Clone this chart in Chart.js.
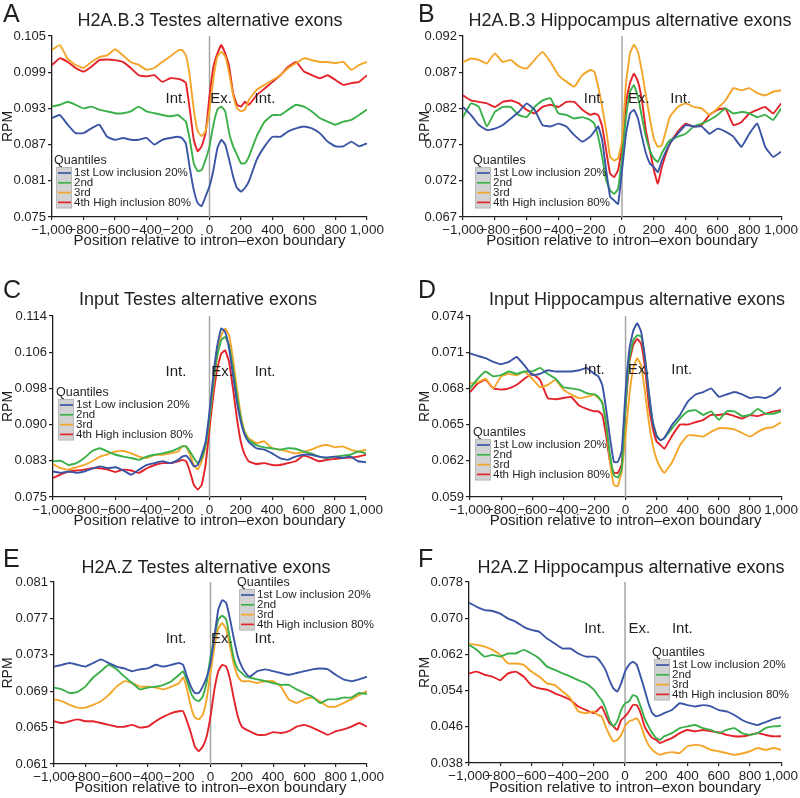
<!DOCTYPE html>
<html>
<head>
<meta charset="utf-8">
<script src="https://cdn.jsdelivr.net/npm/chart.js@4.4.1/dist/chart.umd.min.js"></script>
<style>
  body { margin: 0; background: #fff; }
  canvas { position: absolute; }
</style>
</head>
<body>
<canvas id="panel_a" width="400" height="265" style="left:0;top:0"></canvas>
<canvas id="panel_b" width="400" height="265" style="left:400px;top:0"></canvas>
<canvas id="panel_c" width="400" height="265" style="left:0;top:265px"></canvas>
<canvas id="panel_d" width="400" height="265" style="left:400px;top:265px"></canvas>
<canvas id="panel_e" width="400" height="268" style="left:0;top:530px"></canvas>
<canvas id="panel_f" width="400" height="268" style="left:400px;top:530px"></canvas>
<script>
// Shared x positions (bp relative to intron-exon boundary)
const positions = [-1000,-950,-900,-850,-800,-750,-700,-650,-600,-550,-500,-450,-400,-350,-300,-250,-200,
  -175,-150,-125,-100,-75,-50,-25,0,25,50,75,100,125,150,175,200,225,250,
  300,350,400,450,500,550,600,650,700,750,800,850,900,950,1000];
const xTickLabels = ['\u22121,000','\u2212800','\u2212600','\u2212400','\u2212200','0','200','400','600','800','1,000'];
const quantileLabels = ['1st Low inclusion 20%', '2nd', '3rd', '4th High inclusion 80%'];
const regionLabels = ['Int.', 'Ex.', 'Int.'];

// A - H2A.B.3 Testes
const a_yTicks = ['0.075','0.081','0.087','0.093','0.099','0.105'];
const a_q1 = [0.0914,0.0919,0.0903,0.0889,0.0889,0.0897,0.0903,0.0883,0.0878,0.0881,0.0878,0.0878,0.0881,0.0870,0.0878,0.0881,0.0883,0.0881,0.0872,0.0831,0.0795,0.0773,0.0768,0.0784,0.0801,0.0828,0.0864,0.0878,0.0870,0.0845,0.0817,0.0798,0.0792,0.0798,0.0809,0.0845,0.0867,0.0883,0.0883,0.0892,0.0897,0.0900,0.0897,0.0889,0.0875,0.0867,0.0867,0.0875,0.0867,0.0872];
const a_q2 = [0.0933,0.0936,0.0941,0.0936,0.0930,0.0933,0.0928,0.0925,0.0922,0.0922,0.0925,0.0933,0.0925,0.0922,0.0919,0.0917,0.0919,0.0914,0.0908,0.0878,0.0839,0.0826,0.0828,0.0845,0.0867,0.0903,0.0928,0.0933,0.0925,0.0889,0.0867,0.0853,0.0839,0.0839,0.0850,0.0884,0.0908,0.0919,0.0919,0.0928,0.0936,0.0933,0.0925,0.0914,0.0908,0.0903,0.0908,0.0911,0.0919,0.0928];
const a_q3 = [0.1027,0.1035,0.1012,0.1002,0.0997,0.1007,0.1015,0.1018,0.1028,0.1018,0.1007,0.1002,0.0994,0.0997,0.1007,0.1016,0.1026,0.1027,0.1018,0.0983,0.0928,0.0892,0.0884,0.0892,0.0928,0.0980,0.1016,0.1024,0.1016,0.0988,0.0952,0.0930,0.0925,0.0928,0.0944,0.0961,0.0969,0.0977,0.0985,0.0997,0.1005,0.1013,0.1010,0.1007,0.1007,0.1005,0.1007,0.0994,0.1002,0.1007];
const a_q4 = [0.1002,0.1013,0.1007,0.0997,0.0991,0.0999,0.1010,0.1011,0.1010,0.1007,0.0997,0.0985,0.0983,0.0985,0.0974,0.0980,0.0979,0.0977,0.0972,0.0928,0.0878,0.0859,0.0867,0.0889,0.0950,0.0999,0.1021,0.1035,0.1021,0.0999,0.0955,0.0936,0.0933,0.0941,0.0936,0.0952,0.0963,0.0974,0.0985,0.0999,0.1007,0.0991,0.0985,0.0980,0.0985,0.0977,0.0969,0.0972,0.0974,0.0985];

// B - H2A.B.3 Hippocampus
const b_yTicks = ['0.067','0.072','0.077','0.082','0.087','0.092'];
const b_q1 = [0.0822,0.0811,0.0797,0.0790,0.0792,0.0797,0.0806,0.0815,0.0827,0.0818,0.0797,0.0795,0.0799,0.0795,0.0783,0.0774,0.0781,0.0788,0.0795,0.0776,0.0735,0.0698,0.0693,0.0688,0.0735,0.0785,0.0813,0.0818,0.0806,0.0781,0.0758,0.0744,0.0739,0.0732,0.0748,0.0771,0.0785,0.0797,0.0795,0.0795,0.0785,0.0792,0.0788,0.0781,0.0767,0.0785,0.0799,0.0767,0.0753,0.0760];
const b_q2 = [0.0808,0.0827,0.0822,0.0795,0.0815,0.0822,0.0822,0.0811,0.0808,0.0822,0.0831,0.0834,0.0813,0.0811,0.0806,0.0808,0.0804,0.0799,0.0781,0.0753,0.0721,0.0707,0.0702,0.0709,0.0753,0.0808,0.0843,0.0852,0.0836,0.0808,0.0781,0.0762,0.0751,0.0746,0.0758,0.0776,0.0781,0.0785,0.0795,0.0799,0.0804,0.0811,0.0820,0.0813,0.0815,0.0813,0.0808,0.0811,0.0804,0.0820];
const b_q3 = [0.0884,0.0889,0.0887,0.0882,0.0896,0.0884,0.0887,0.0878,0.0875,0.0887,0.0898,0.0884,0.0866,0.0857,0.0850,0.0866,0.0873,0.0871,0.0850,0.0822,0.0790,0.0753,0.0748,0.0751,0.0776,0.0855,0.0896,0.0908,0.0898,0.0871,0.0838,0.0806,0.0778,0.0767,0.0769,0.0808,0.0822,0.0827,0.0822,0.0820,0.0811,0.0820,0.0831,0.0848,0.0845,0.0848,0.0841,0.0838,0.0843,0.0845];
const b_q4 = [0.0838,0.0831,0.0829,0.0827,0.0822,0.0829,0.0831,0.0827,0.0818,0.0813,0.0822,0.0825,0.0822,0.0829,0.0829,0.0818,0.0811,0.0813,0.0811,0.0795,0.0762,0.0730,0.0725,0.0735,0.0767,0.0827,0.0855,0.0868,0.0857,0.0831,0.0790,0.0762,0.0735,0.0716,0.0739,0.0771,0.0788,0.0799,0.0795,0.0797,0.0811,0.0818,0.0820,0.0797,0.0801,0.0813,0.0818,0.0822,0.0813,0.0827];

// C - Input Testes
const c_yTicks = ['0.075','0.083','0.090','0.098','0.106','0.114'];
const c_q1 = [0.0805,0.0802,0.0805,0.0802,0.0805,0.0811,0.0816,0.0812,0.0814,0.0807,0.0798,0.0809,0.0819,0.0823,0.0827,0.0823,0.0830,0.0837,0.0839,0.0830,0.0816,0.0819,0.0841,0.0869,0.0934,0.1013,0.1077,0.1113,0.1106,0.1070,0.1013,0.0955,0.0912,0.0884,0.0869,0.0855,0.0852,0.0844,0.0834,0.0830,0.0837,0.0841,0.0841,0.0837,0.0835,0.0837,0.0834,0.0837,0.0827,0.0825];
const c_q2 = [0.0827,0.0828,0.0819,0.0823,0.0834,0.0849,0.0855,0.0848,0.0841,0.0837,0.0834,0.0830,0.0837,0.0841,0.0844,0.0848,0.0855,0.0859,0.0859,0.0848,0.0834,0.0823,0.0834,0.0862,0.0920,0.0998,0.1056,0.1088,0.1095,0.1077,0.1027,0.0970,0.0920,0.0887,0.0873,0.0862,0.0857,0.0855,0.0852,0.0855,0.0854,0.0848,0.0844,0.0837,0.0834,0.0837,0.0839,0.0841,0.0848,0.0844];
const c_q3 = [0.0821,0.0812,0.0809,0.0814,0.0819,0.0827,0.0837,0.0842,0.0848,0.0849,0.0844,0.0837,0.0834,0.0841,0.0841,0.0844,0.0848,0.0859,0.0859,0.0841,0.0819,0.0809,0.0827,0.0859,0.0920,0.0991,0.1056,0.1098,0.1113,0.1098,0.1048,0.0984,0.0927,0.0891,0.0877,0.0866,0.0870,0.0855,0.0852,0.0848,0.0844,0.0847,0.0852,0.0859,0.0862,0.0857,0.0859,0.0852,0.0848,0.0852];
const c_q4 = [0.0791,0.0799,0.0805,0.0807,0.0809,0.0812,0.0812,0.0809,0.0804,0.0809,0.0807,0.0802,0.0812,0.0819,0.0823,0.0823,0.0827,0.0830,0.0827,0.0805,0.0776,0.0766,0.0776,0.0819,0.0898,0.0970,0.1027,0.1059,0.1066,0.1041,0.0984,0.0920,0.0869,0.0841,0.0827,0.0821,0.0823,0.0819,0.0819,0.0823,0.0827,0.0839,0.0834,0.0827,0.0830,0.0832,0.0834,0.0835,0.0837,0.0841];

// D - Input Hippocampus
const d_yTicks = ['0.059','0.062','0.065','0.068','0.071','0.074'];
const d_q1 = [0.0709,0.0707,0.0705,0.0702,0.0700,0.0702,0.0706,0.0699,0.0691,0.0692,0.0695,0.0694,0.0694,0.0694,0.0695,0.0697,0.0692,0.0690,0.0683,0.0663,0.0639,0.0619,0.0619,0.0628,0.0677,0.0713,0.0728,0.0734,0.0727,0.0705,0.0677,0.0652,0.0640,0.0637,0.0639,0.0650,0.0658,0.0669,0.0675,0.0677,0.0680,0.0673,0.0675,0.0677,0.0675,0.0672,0.0673,0.0672,0.0675,0.0681];
const d_q2 = [0.0680,0.0688,0.0694,0.0690,0.0691,0.0694,0.0692,0.0694,0.0694,0.0697,0.0692,0.0688,0.0681,0.0680,0.0679,0.0676,0.0675,0.0673,0.0668,0.0650,0.0625,0.0608,0.0606,0.0613,0.0666,0.0705,0.0720,0.0724,0.0723,0.0705,0.0675,0.0652,0.0641,0.0637,0.0639,0.0647,0.0655,0.0661,0.0662,0.0658,0.0661,0.0654,0.0661,0.0661,0.0657,0.0658,0.0663,0.0659,0.0659,0.0661];
const d_q3 = [0.0684,0.0685,0.0688,0.0680,0.0690,0.0692,0.0691,0.0694,0.0688,0.0681,0.0683,0.0687,0.0679,0.0675,0.0672,0.0673,0.0675,0.0672,0.0669,0.0652,0.0619,0.0600,0.0599,0.0611,0.0641,0.0675,0.0697,0.0705,0.0699,0.0677,0.0652,0.0633,0.0621,0.0614,0.0610,0.0619,0.0633,0.0641,0.0641,0.0640,0.0644,0.0647,0.0647,0.0646,0.0643,0.0640,0.0644,0.0647,0.0648,0.0652];
const d_q4 = [0.0677,0.0684,0.0687,0.0680,0.0679,0.0680,0.0683,0.0688,0.0692,0.0687,0.0672,0.0671,0.0672,0.0673,0.0666,0.0663,0.0661,0.0661,0.0658,0.0641,0.0619,0.0610,0.0610,0.0617,0.0664,0.0702,0.0716,0.0721,0.0717,0.0697,0.0666,0.0647,0.0636,0.0633,0.0630,0.0641,0.0650,0.0650,0.0652,0.0654,0.0658,0.0658,0.0659,0.0657,0.0655,0.0658,0.0657,0.0659,0.0661,0.0662];

// E - H2A.Z Testes
const e_yTicks = ['0.061','0.065','0.069','0.073','0.077','0.081'];
const e_q1 = [0.0717,0.0719,0.0721,0.0719,0.0717,0.0721,0.0725,0.0721,0.0717,0.0715,0.0712,0.0714,0.0715,0.0719,0.0717,0.0719,0.0721,0.0719,0.0706,0.0695,0.0688,0.0688,0.0695,0.0705,0.0721,0.0750,0.0780,0.0790,0.0787,0.0769,0.0747,0.0728,0.0717,0.0710,0.0706,0.0712,0.0714,0.0712,0.0710,0.0708,0.0710,0.0712,0.0714,0.0715,0.0714,0.0708,0.0703,0.0701,0.0703,0.0706];
const e_q2 = [0.0694,0.0692,0.0688,0.0689,0.0695,0.0705,0.0712,0.0719,0.0714,0.0706,0.0699,0.0692,0.0694,0.0695,0.0697,0.0701,0.0708,0.0712,0.0701,0.0688,0.0681,0.0679,0.0684,0.0699,0.0728,0.0750,0.0769,0.0773,0.0769,0.0747,0.0725,0.0714,0.0710,0.0706,0.0705,0.0703,0.0701,0.0699,0.0697,0.0697,0.0692,0.0688,0.0684,0.0677,0.0681,0.0681,0.0683,0.0683,0.0688,0.0687];
const e_q3 = [0.0681,0.0679,0.0675,0.0672,0.0672,0.0675,0.0679,0.0686,0.0695,0.0701,0.0699,0.0695,0.0695,0.0694,0.0692,0.0695,0.0699,0.0705,0.0692,0.0673,0.0661,0.0659,0.0664,0.0681,0.0710,0.0739,0.0759,0.0765,0.0758,0.0739,0.0719,0.0706,0.0701,0.0701,0.0701,0.0699,0.0701,0.0701,0.0695,0.0681,0.0677,0.0681,0.0683,0.0679,0.0673,0.0673,0.0677,0.0681,0.0686,0.0690];
const e_q4 = [0.0657,0.0655,0.0657,0.0659,0.0657,0.0657,0.0655,0.0653,0.0651,0.0651,0.0653,0.0650,0.0651,0.0657,0.0662,0.0666,0.0668,0.0668,0.0657,0.0644,0.0629,0.0624,0.0629,0.0640,0.0662,0.0692,0.0712,0.0719,0.0717,0.0703,0.0681,0.0662,0.0651,0.0648,0.0646,0.0642,0.0642,0.0645,0.0644,0.0646,0.0651,0.0653,0.0650,0.0646,0.0642,0.0646,0.0648,0.0651,0.0655,0.0651];

// F - H2A.Z Hippocampus
const f_yTicks = ['0.038','0.046','0.054','0.062','0.070','0.078'];
const f_q1 = [0.0734,0.0725,0.0718,0.0716,0.0710,0.0699,0.0692,0.0681,0.0674,0.0670,0.0655,0.0644,0.0633,0.0633,0.0622,0.0615,0.0615,0.0611,0.0600,0.0586,0.0563,0.0545,0.0538,0.0556,0.0582,0.0597,0.0604,0.0597,0.0571,0.0542,0.0512,0.0490,0.0483,0.0486,0.0490,0.0497,0.0512,0.0508,0.0505,0.0508,0.0505,0.0497,0.0494,0.0486,0.0475,0.0468,0.0464,0.0470,0.0477,0.0481];
const f_q2 = [0.0641,0.0630,0.0615,0.0619,0.0615,0.0622,0.0622,0.0630,0.0622,0.0611,0.0593,0.0586,0.0578,0.0571,0.0563,0.0556,0.0542,0.0530,0.0519,0.0501,0.0475,0.0461,0.0472,0.0497,0.0512,0.0516,0.0530,0.0527,0.0505,0.0479,0.0461,0.0446,0.0435,0.0431,0.0439,0.0446,0.0457,0.0461,0.0464,0.0457,0.0453,0.0446,0.0453,0.0457,0.0446,0.0442,0.0446,0.0457,0.0461,0.0462];
const f_q3 = [0.0643,0.0641,0.0637,0.0630,0.0619,0.0600,0.0600,0.0597,0.0582,0.0571,0.0556,0.0552,0.0538,0.0523,0.0494,0.0490,0.0494,0.0486,0.0483,0.0461,0.0442,0.0428,0.0431,0.0442,0.0461,0.0472,0.0475,0.0479,0.0464,0.0439,0.0420,0.0409,0.0402,0.0398,0.0401,0.0404,0.0402,0.0417,0.0420,0.0417,0.0409,0.0406,0.0402,0.0398,0.0401,0.0406,0.0413,0.0409,0.0413,0.0409];
const f_q4 = [0.0578,0.0582,0.0575,0.0571,0.0563,0.0578,0.0582,0.0571,0.0552,0.0545,0.0542,0.0534,0.0527,0.0519,0.0505,0.0497,0.0490,0.0497,0.0505,0.0486,0.0468,0.0461,0.0453,0.0475,0.0483,0.0494,0.0508,0.0508,0.0490,0.0461,0.0446,0.0435,0.0431,0.0424,0.0428,0.0435,0.0446,0.0453,0.0450,0.0453,0.0450,0.0448,0.0442,0.0439,0.0439,0.0442,0.0446,0.0442,0.0439,0.0439];

const FONT = "'Liberation Sans', Arial, Helvetica, sans-serif";
const INK = '#231f20';
const lineColors = ['#3a55a5', '#3bb04a', '#f4a62a', '#e2232a'];

Chart.defaults.font.family = FONT;
Chart.defaults.color = INK;

// letter, title, zero line, Int./Ex. labels and the quantile legend
const panelDecor = {
  id: 'panelDecor',
  beforeDatasetsDraw(chart, args, o) {
    const {ctx, chartArea} = chart;
    const zx = chart.scales.x.getPixelForValue(0);
    ctx.save();
    ctx.strokeStyle = '#a5a5a5';
    ctx.lineWidth = 1.5;
    ctx.beginPath();
    ctx.moveTo(zx, chartArea.top);
    ctx.lineTo(zx, chartArea.bottom);
    ctx.stroke();
    ctx.restore();
  },
  afterDatasetsDraw(chart, args, o) {
    const {ctx, chartArea} = chart;
    const xs = chart.scales.x;
    ctx.save();
    ctx.fillStyle = INK;
    ctx.textAlign = 'left';
    ctx.textBaseline = 'alphabetic';
    ctx.font = '25px ' + FONT;
    ctx.fillText(o.letter, o.letterX, o.letterY);

    ctx.textAlign = 'center';
    ctx.textBaseline = 'middle';
    ctx.font = '18px ' + FONT;
    ctx.fillText(o.title, o.titleX, o.titleY);

    ctx.font = '15px ' + FONT;
    const ry = chartArea.top + o.regionY * chartArea.height;
    regionLabels.forEach((t, i) => ctx.fillText(t, xs.getPixelForValue(o.regionX[i]), ry));

    // legend
    const lg = o.legend;
    ctx.textAlign = 'left';
    ctx.font = '12.5px ' + FONT;
    ctx.fillText('Quantiles', lg.x, lg.y);
    const step = 9.8, y0 = lg.y + 12;
    const n = chart.data.datasets.length;
    ctx.fillStyle = '#d2d2d2';
    ctx.strokeStyle = '#b9b9b9';
    ctx.lineWidth = 1;
    ctx.fillRect(lg.x + 2, y0 - 6, 16, (n - 1) * step + 12);
    ctx.strokeRect(lg.x + 2.5, y0 - 5.5, 15, (n - 1) * step + 11);
    ctx.font = '11.5px ' + FONT;
    chart.data.datasets.forEach((ds, i) => {
      const y = y0 + i * step;
      ctx.strokeStyle = ds.borderColor;
      ctx.lineWidth = 1.7;
      ctx.beginPath();
      ctx.moveTo(lg.x + 4, y);
      ctx.lineTo(lg.x + 17, y);
      ctx.stroke();
      ctx.fillStyle = INK;
      ctx.fillText(ds.label, lg.x + 20, y);
    });
    ctx.restore();
  }
};

function makePanel(id, series, yTicks, box, decor) {
  const yMin = parseFloat(yTicks[0]);
  const yMax = parseFloat(yTicks[yTicks.length - 1]);
  return new Chart(document.getElementById(id), {
    type: 'line',
    data: {
      datasets: series.map((values, i) => ({
        label: quantileLabels[i],
        data: values.map((v, j) => ({x: positions[j], y: v})),
        borderColor: lineColors[i],
        borderWidth: 1.9,
        borderJoinStyle: 'round',
        pointRadius: 0,
        tension: 0.12,
        fill: false
      }))
    },
    options: {
      responsive: false,
      animation: false,
      devicePixelRatio: 1,
      layout: {
        autoPadding: false,
        padding: {left: box.padLeft, top: box.top, right: box.padRight, bottom: box.padBottom}
      },
      plugins: {
        legend: {display: false},
        tooltip: {enabled: false},
        panelDecor: decor
      },
      scales: {
        x: {
          type: 'linear',
          min: -1000,
          max: 1000,
          afterFit: s => { s.height = box.xHeight; },
          border: {color: INK, width: 1.3},
          grid: {drawOnChartArea: false, drawTicks: true, tickLength: 3, color: INK, lineWidth: 1.2},
          ticks: {
            stepSize: 200,
            autoSkip: false,
            maxRotation: 0,
            minRotation: 0,
            padding: 2,
            font: {size: 13.5},
            color: INK,
            callback: (v, i) => xTickLabels[i]
          },
          title: {display: true, text: 'Position relative to intron\u2013exon boundary',
                  font: {size: 15}, color: INK, padding: {top: 0, bottom: 0}}
        },
        y: {
          min: yMin,
          max: yMax,
          afterFit: s => { s.width = box.yWidth; },
          afterBuildTicks: s => { s.ticks = yTicks.map((t, i) => ({value: yMin + i * (yMax - yMin) / (yTicks.length - 1)})); },
          border: {color: INK, width: 1.3},
          grid: {drawOnChartArea: false, drawTicks: true, tickLength: 4, color: INK, lineWidth: 1.2},
          ticks: {
            padding: 2,
            font: {size: 13},
            color: INK,
            callback: (v, i) => yTicks[i]
          },
          title: {display: true, text: 'RPM', font: {size: 14}, color: INK, padding: {top: 0, bottom: 0}}
        }
      }
    },
    plugins: [panelDecor]
  });
}

makePanel('panel_a', [a_q1, a_q2, a_q3, a_q4], a_yTicks,
  {padLeft: 0, yWidth: 52, top: 36, padRight: 33, xHeight: 33, padBottom: 15},
  {letter: 'A', letterX: 3, letterY: 21.5, title: 'H2A.B.3 Testes alternative exons', titleX: 210, titleY: 21,
   regionX: [-213, 73, 352], regionY: 0.35, legend: {x: 54, y: 161}});

makePanel('panel_b', [b_q1, b_q2, b_q3, b_q4], b_yTicks,
  {padLeft: 17, yWidth: 46, top: 36, padRight: 17, xHeight: 33, padBottom: 15},
  {letter: 'B', letterX: 18, letterY: 21.5, title: 'H2A.B.3 Hippocampus alternative exons', titleX: 230, titleY: 21,
   regionX: [-175, 106, 369], regionY: 0.35, legend: {x: 73, y: 161}});

makePanel('panel_c', [c_q1, c_q2, c_q3, c_q4], c_yTicks,
  {padLeft: 0, yWidth: 53, top: 51, padRight: 34, xHeight: 33, padBottom: 0},
  {letter: 'C', letterX: 3, letterY: 33, title: 'Input Testes alternative exons', titleX: 198, titleY: 35,
   regionX: [-214, 80, 355], regionY: 0.31, legend: {x: 56, y: 128}});

makePanel('panel_d', [d_q1, d_q2, d_q3, d_q4], d_yTicks,
  {padLeft: 17, yWidth: 53, top: 51, padRight: 17, xHeight: 33, padBottom: 0},
  {letter: 'D', letterX: 18, letterY: 33, title: 'Input Hippocampus alternative exons', titleX: 237, titleY: 35,
   regionX: [-201, 86, 361], regionY: 0.30, legend: {x: 73, y: 168}});

makePanel('panel_e', [e_q1, e_q2, e_q3, e_q4], e_yTicks,
  {padLeft: 0, yWidth: 54, top: 52, padRight: 33, xHeight: 33, padBottom: 1},
  {letter: 'E', letterX: 3, letterY: 37, title: 'H2A.Z Testes alternative exons', titleX: 206, titleY: 38,
   regionX: [-220, 73, 348], regionY: 0.31, legend: {x: 237, y: 53}});

makePanel('panel_f', [f_q1, f_q2, f_q3, f_q4], f_yTicks,
  {padLeft: 17, yWidth: 52, top: 52, padRight: 18, xHeight: 34, padBottom: 1},
  {letter: 'F', letterX: 18, letterY: 37, title: 'H2A.Z Hippocampus alternative exons', titleX: 231, titleY: 38,
   regionX: [-195, 92, 367], regionY: 0.26, legend: {x: 252, y: 123}});
</script>
</body>
</html>
